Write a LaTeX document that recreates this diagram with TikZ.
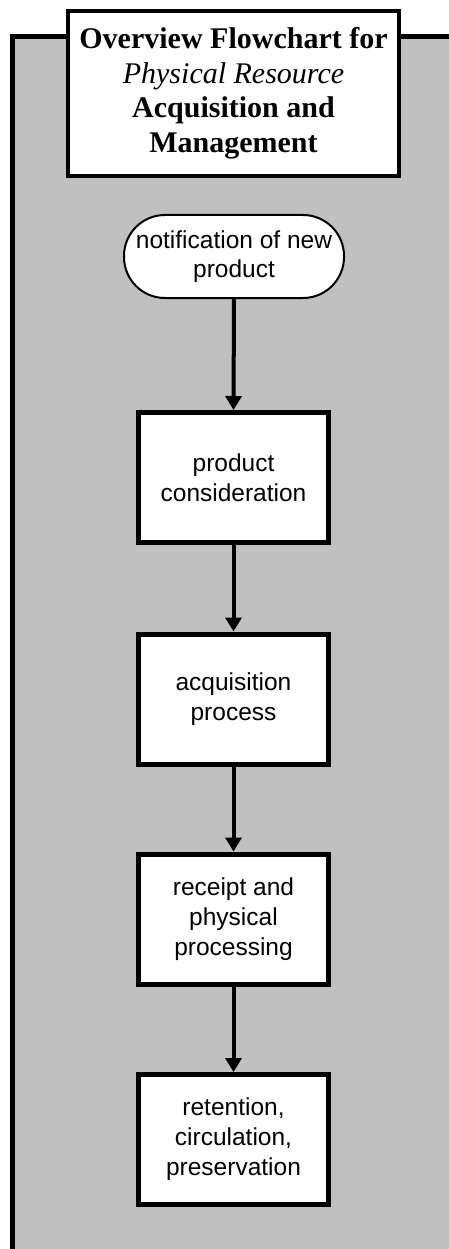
\documentclass[tikz,border=0pt]{standalone}
\usepackage{fontspec}
\setmainfont{Liberation Serif}
\newfontfamily\boxfont{Liberation Sans}
\usetikzlibrary{arrows.meta}
\definecolor{panelgray}{RGB}{192,192,192}
\tikzset{
  panel/.style={draw=black, line width=5pt, fill=panelgray},
  titlebox/.style={draw=black, line width=4.5pt, fill=white, align=center,
    minimum width=331pt, minimum height=165pt, inner sep=0pt,
    font=\fontsize{30}{34.5}\selectfont\bfseries},
  terminal/.style={draw=black, line width=2pt, fill=white, align=center,
    minimum width=220pt, minimum height=83pt, rounded corners=41pt, inner sep=0pt,
    font=\boxfont\fontsize{24.5}{29}\selectfont},
  stepbox/.style={draw=black, line width=5pt, fill=white, align=center,
    minimum width=190pt, minimum height=130pt, inner sep=0pt,
    font=\boxfont\fontsize{24.5}{30}\selectfont},
  flow/.style={draw=black, line width=4pt, -{Triangle[length=14pt,width=16pt]}}
}
\begin{document}
\begin{tikzpicture}[x=1pt,y=-1pt]
  \useasboundingbox (0,0) rectangle (448,1249);
  % grey panel behind the chart
  \draw[panel] (12.5,37) rectangle (480,1280);
  % heading
  \node[titlebox] (title) at (233.5,93.5)
    {Overview Flowchart for\\{\mdseries\itshape Physical Resource}\\Acquisition and\\Management};
  % flow steps
  \node[terminal] (start) at (234,256.5) {notification of new\\product};
  \node[stepbox] (consider) at (233.5,477.5) {product\\consideration};
  \node[stepbox] (acquire) at (233.5,699) {acquisition\\process};
  \node[stepbox] (receipt) at (233.5,919) {receipt and\\physical\\processing};
  \node[stepbox] (retain) at (233.5,1139.5) {retention,\\circulation,\\preservation};
  % connectors
  \draw[flow] (start.south) -- (consider.north);
  \draw[flow] (consider.south) -- (acquire.north);
  \draw[flow] (acquire.south) -- (receipt.north);
  \draw[flow] (receipt.south) -- (retain.north);
\end{tikzpicture}
\end{document}
